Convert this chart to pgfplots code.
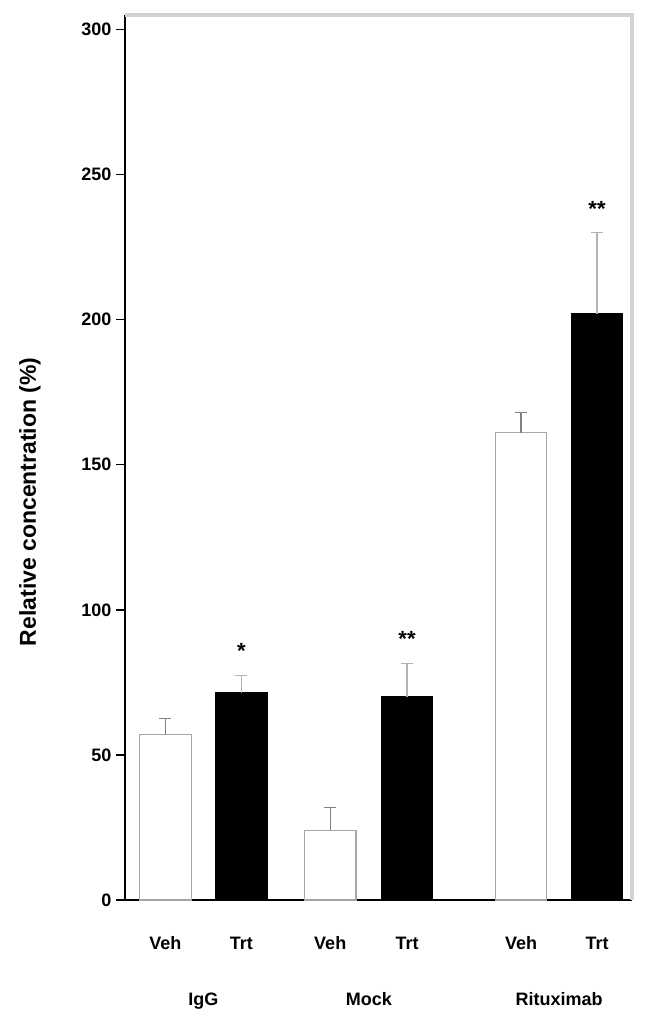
\documentclass[border=0pt]{standalone}
\usepackage{pgfplots}
\pgfplotsset{compat=1.18}
\usepackage{fontspec}
\setmainfont{Liberation Sans}
\begin{document}
\begin{tikzpicture}
\begin{axis}[
  scale only axis,
  width=507pt, height=885pt,
  xmin=-0.53, xmax=6.14,
  ymin=0, ymax=305,
  ytick={0,50,100,150,200,250,300},
  xtick={0,1,2.17,3.18,4.68,5.68},
  xticklabels={Veh,Trt,Veh,Trt,Veh,Trt},
  axis x line*=bottom, axis y line*=left,
  axis line style={black, line width=1.5pt},
  x axis line style={-},
  y axis line style={-},
  xtick style={draw=none},
  ytick style={black, line width=1.5pt},
  tick align=outside,
  major tick length=9pt,
  /pgf/number format/assume math mode=true,
  ticklabel style={font=\fontsize{18}{20}\selectfont\bfseries},
  yticklabel style={xshift=-1pt},
  xticklabel style={yshift=-24pt, text height=13pt, text depth=4pt},
  ylabel={\bfseries Relative concentration (\%)},
  ylabel style={font=\fontsize{23}{25}\selectfont, at={(rel axis cs:0,0.45)}, anchor=center, yshift=95pt},
  clip=false,
  ybar, bar width=0.68, bar shift=0pt,
]
\draw[gray!35, line width=4pt] (rel axis cs:0,1) -- (rel axis cs:1,1) -- (rel axis cs:1,0);
\path ([xshift=-125pt,yshift=15pt]rel axis cs:0,1) -- ([xshift=20pt,yshift=-117pt]rel axis cs:1,0);
\addplot[fill=white, draw=gray!70, line width=1.2pt,
  error bars/.cd, y dir=plus, y explicit,
  error bar style={gray, line width=1.2pt}, error mark options={gray, line width=1.2pt, mark size=6pt, rotate=90}]
  coordinates {(0,57) +- (0,5.5) (2.17,24) +- (0,8) (4.68,161) +- (0,7)};
\addplot[fill=black, draw=black, line width=1pt,
  error bars/.cd, y dir=plus, y explicit,
  error bar style={gray!60, line width=1.5pt}, error mark options={gray!60, line width=1.5pt, mark size=6pt, rotate=90}]
  coordinates {(1,71.4) +- (0,6) (3.18,70) +- (0,11.5) (5.68,202) +- (0,28)};
\node[font=\fontsize{22}{24}\selectfont\bfseries] at (axis cs:1,86) {*};
\node[font=\fontsize{22}{24}\selectfont\bfseries] at (axis cs:3.18,90) {**};
\node[font=\fontsize{22}{24}\selectfont\bfseries] at (axis cs:5.68,238) {**};
\node[font=\fontsize{18}{20}\selectfont\bfseries, anchor=base] at (axis cs:0.5,-36.5) {IgG};
\node[font=\fontsize{18}{20}\selectfont\bfseries, anchor=base] at (axis cs:2.68,-36.5) {Mock};
\node[font=\fontsize{18}{20}\selectfont\bfseries, anchor=base] at (axis cs:5.18,-36.5) {Rituximab};
\end{axis}
\end{tikzpicture}
\end{document}
